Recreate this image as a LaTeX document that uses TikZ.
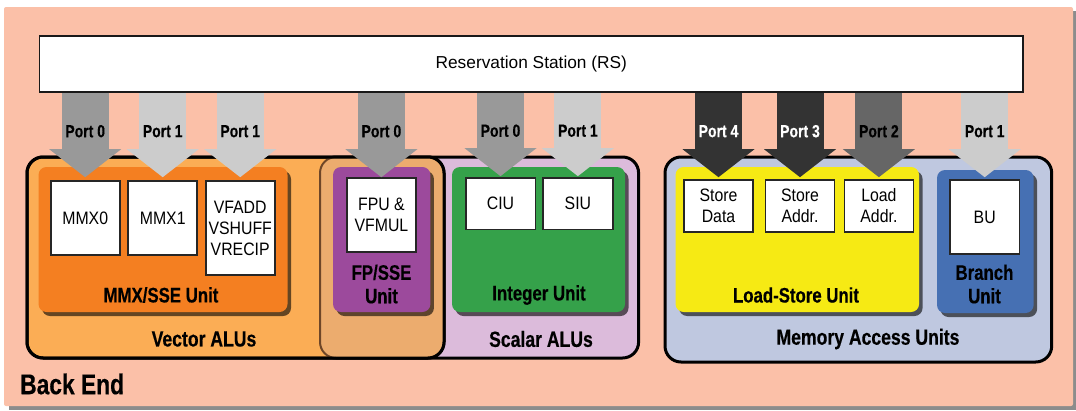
\documentclass[tikz,border=0pt]{standalone}
\usepackage{fontspec}
\setmainfont{Liberation Sans}
\newfontfamily\condfont[FakeStretch=0.88]{Liberation Sans}
\newfontfamily\boldcond[FakeStretch=0.8, BoldFeatures={FakeBold=0.4}]{Liberation Sans}
\usetikzlibrary{arrows.meta,shadows}
\definecolor{bgsalmon}{HTML}{FBC0A8}
\definecolor{vecorange}{HTML}{FBAD55}
\definecolor{mmxorange}{HTML}{F47F21}
\definecolor{overlapc}{HTML}{ECAC6E}
\definecolor{overlapb}{HTML}{6E4628}
\definecolor{scalarlav}{HTML}{DCBBDB}
\definecolor{fppurple}{HTML}{9C4A9C}
\definecolor{intgreen}{HTML}{35A14A}
\definecolor{memblue}{HTML}{BFC8E0}
\definecolor{lsyellow}{HTML}{F6EA14}
\definecolor{brblue}{HTML}{4670B3}
\definecolor{pzero}{HTML}{999999}
\definecolor{pone}{HTML}{CCCCCC}
\definecolor{ptwo}{HTML}{666666}
\definecolor{pthree}{HTML}{333333}
\newcommand\myboxfont{\condfont\fontsize{18}{21}\selectfont}
\newcommand\myportfont{\boldcond\bfseries\fontsize{17.5}{19}\selectfont}
\newcommand\myunitfont{\boldcond\bfseries\fontsize{21}{23.5}\selectfont}
\newcommand\mycontfont{\boldcond\bfseries\fontsize{22}{24}\selectfont}
\newcommand\mybackfont{\boldcond\bfseries\fontsize{28.5}{30}\selectfont}
\newcommand\myrsfont{\fontsize{17.3}{20}\selectfont}
\tikzset{
  container/.style={draw=black, line width=3pt, rounded corners=16pt, inner sep=0pt},
  unitbox/.style={rounded corners=8pt, inner sep=0pt,
    drop shadow={shadow xshift=3.5pt, shadow yshift=-4pt, fill=black, opacity=0.6}},
  wbox/.style={draw=black!85, fill=white, line width=1.6pt, align=center, inner sep=1pt, font=\myboxfont},
  port/.style={line width=47pt, line cap=butt, -{Triangle[width=72pt,length=28pt,line width=0pt]}},
  portlbl/.style={font=\myportfont, text=black},
  ulbl/.style={font=\myunitfont, align=center},
  clbl/.style={font=\mycontfont},
}
\begin{document}
\begin{tikzpicture}[x=1pt,y=-1pt]
\useasboundingbox (0,0) rectangle (1076,410);
% background with shadow
\fill[black!45] (9,11) rectangle (1076,410);
\node[fill=bgsalmon, minimum width=1069pt, minimum height=399pt, inner sep=0pt, rounded corners=2pt] (bg) at (538.5,206.5) {};
% containers
\node[container, fill=scalarlav, minimum width=318.6pt, minimum height=201pt] (scalar) at (479.3,257.5) {};
\node[container, fill=memblue, minimum width=386.7pt, minimum height=205pt] (mem) at (858.35,259.5) {};
\node[container, fill=vecorange, minimum width=417pt, minimum height=201pt] (vector) at (235.5,257.5) {};
\node[draw=overlapb, line width=2pt, fill=overlapc, rounded corners=16pt, minimum width=124pt, minimum height=201pt, inner sep=0pt] (fpouter) at (382,257.5) {};
\node[container, minimum width=417pt, minimum height=201pt] (vectorb) at (235.5,257.5) {};
% units
\node[unitbox, fill=mmxorange, minimum width=249pt, minimum height=145pt] (mmxu) at (163,239.5) {};
\node[unitbox, fill=fppurple, minimum width=97.4pt, minimum height=145pt] (fpu) at (381.7,239.5) {};
\node[unitbox, fill=intgreen, minimum width=173pt, minimum height=145pt] (intu) at (538.5,239.5) {};
\node[unitbox, fill=lsyellow, minimum width=243.5pt, minimum height=145pt] (lsu) at (797.3,239.5) {};
\node[unitbox, fill=brblue, minimum width=96.6pt, minimum height=143pt] (bru) at (985.3,241.5) {};
% white boxes
\node[wbox, minimum width=69pt, minimum height=74pt] (m0) at (85.2,218) {MMX0};
\node[wbox, minimum width=69pt, minimum height=74pt] (m1) at (162.7,218) {MMX1};
\node[wbox, minimum width=69pt, minimum height=94pt] (vf) at (240.2,228) {VFADD\\VSHUFF\\VRECIP};
\node[wbox, minimum width=69pt, minimum height=74pt] (fp) at (381.4,215) {FPU \&\\VFMUL};
\node[wbox, minimum width=69.6pt, minimum height=51.5pt] (ciu) at (500.5,203.7) {CIU};
\node[wbox, minimum width=69.6pt, minimum height=51.5pt] (siu) at (577.9,203.7) {SIU};
\node[wbox, minimum width=69pt, minimum height=52pt] (sd) at (718.5,206) {Store\\Data};
\node[wbox, minimum width=69pt, minimum height=52pt] (sa) at (800,206) {Store\\Addr.};
\node[wbox, minimum width=69pt, minimum height=52pt] (la) at (878.9,206) {Load\\Addr.};
\node[wbox, minimum width=69.5pt, minimum height=74pt] (bu) at (984.7,217) {BU};
% unit labels
\node[ulbl] (lmmx) at (161,295) {MMX/SSE Unit};
\node[ulbl] (lfp) at (381.5,284) {FP/SSE\\Unit};
\node[ulbl] (lint) at (539,295) {Integer Unit};
\node[ulbl] (lls) at (796,295) {Load-Store Unit};
\node[ulbl] (lbr) at (984.5,284) {Branch\\Unit};
% container labels
\node[clbl] (lvec) at (204,339) {Vector ALUs};
\node[clbl] (lsca) at (541,339) {Scalar ALUs};
\node[clbl] (lmem) at (868,339) {Memory Access Units};
\node[font=\mybackfont, anchor=west, inner sep=0pt] (lback) at (20,384) {Back End};
% reservation station
\node[draw=black!90, line width=1.6pt, fill=white, minimum width=983.4pt, minimum height=56pt, font=\myrsfont] (rs) at (531.3,64) {Reservation Station (RS)};
% ports
\draw[port, pzero] (rs.south -| m0.north) -- node[portlbl, pos=0.455]{Port 0} ([yshift=3pt]m0.north);
\draw[port, pone] (rs.south -| m1.north) -- node[portlbl, pos=0.455]{Port 1} ([yshift=3pt]m1.north);
\draw[port, pone] (rs.south -| vf.north) -- node[portlbl, pos=0.455]{Port 1} ([yshift=3pt]vf.north);
\draw[port, pzero] (rs.south -| fp.north) -- node[portlbl, pos=0.455]{Port 0} ([yshift=0pt]fp.north);
\draw[port, pzero] (rs.south -| ciu.north) -- node[portlbl, pos=0.455]{Port 0} ([yshift=1pt]ciu.north);
\draw[port, pone] (rs.south -| siu.north) -- node[portlbl, pos=0.455]{Port 1} ([yshift=1pt]siu.north);
\draw[port, pthree] (rs.south -| sd.north) -- node[portlbl, text=white, pos=0.455]{Port 4} ([yshift=2pt]sd.north);
\draw[port, pthree] (rs.south -| sa.north) -- node[portlbl, text=white, pos=0.455]{Port 3} ([yshift=2pt]sa.north);
\draw[port, ptwo] (rs.south -| la.north) -- node[portlbl, pos=0.455]{Port 2} ([yshift=2pt]la.north);
\draw[port, pone] (rs.south -| bu.north) -- node[portlbl, pos=0.455]{Port 1} ([yshift=2pt]bu.north);
\end{tikzpicture}
\end{document}
